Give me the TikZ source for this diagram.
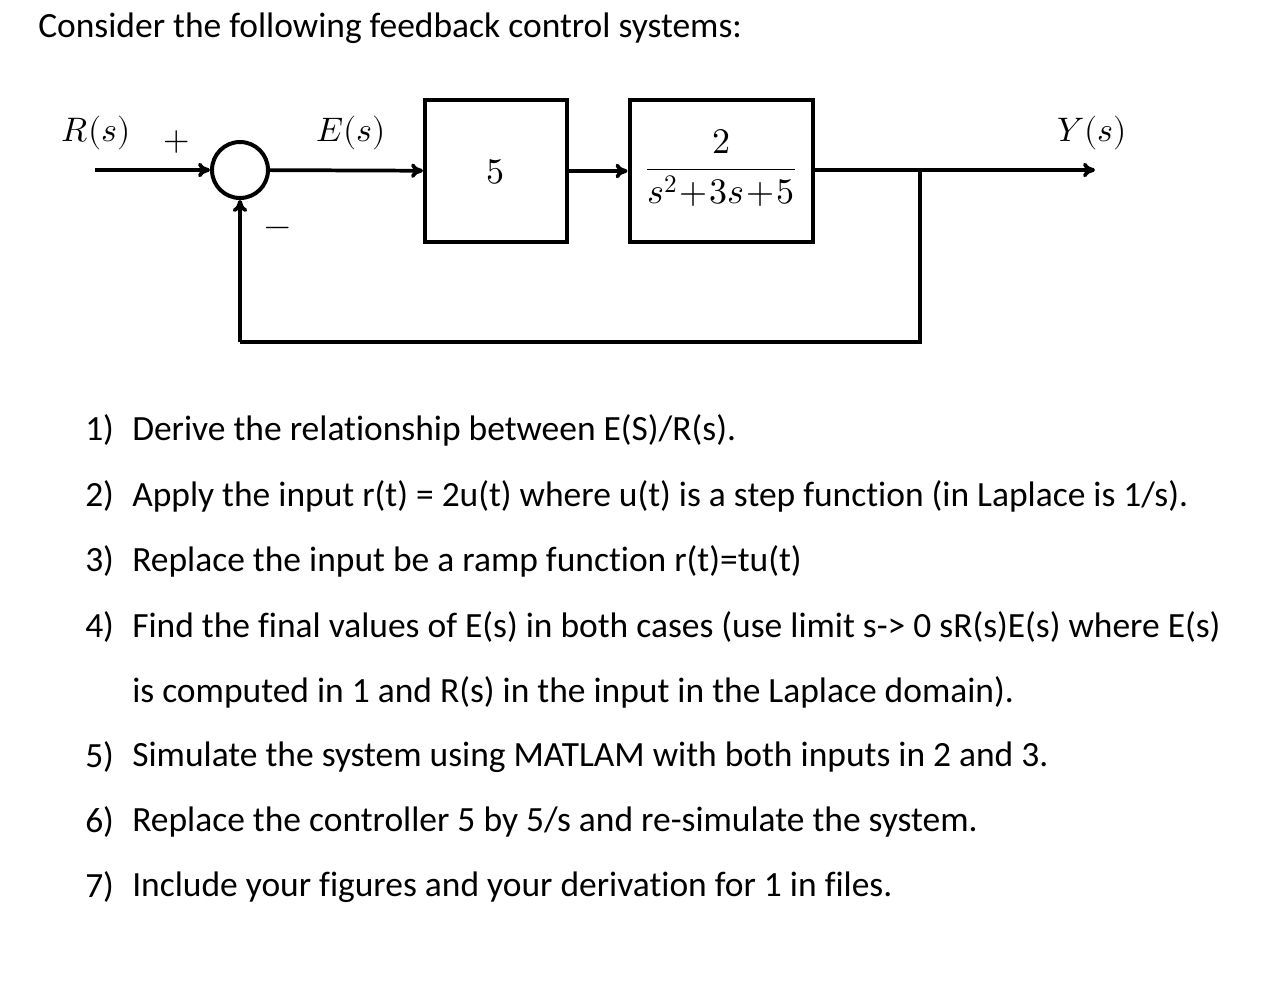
\documentclass[tikz,border=0pt]{standalone}
\usepackage{fontspec}
\setmainfont{Carlito}[Ligatures=NoCommon]
\usepackage{unicode-math}
\setmathfont{Latin Modern Math}
\usetikzlibrary{arrows.meta}
\begin{document}
\begin{tikzpicture}[x=0.75pt,y=-0.75pt,
  blk/.style={draw,line width=3pt,inner sep=0pt},
  ln/.style={line width=2.8pt},
  arr/.style={ln,-{To[length=9pt,width=11pt]}},
  lbl/.style={font=\fontsize{25.5}{30}\selectfont},
  txt/.style={anchor=west,font=\fontsize{26.6}{30}\selectfont,inner sep=0pt}]
\useasboundingbox (0,0) rectangle (1284,1001);
\node[txt] (title) at (38,28) {Consider the following feedback control systems:};
\node[draw,circle,line width=3pt,minimum size=56*0.75pt,inner sep=0pt] (sum) at (240,170) {};
\coordinate (in) at (95,170);
\node[blk,minimum width=142*0.75pt,minimum height=142*0.75pt] (c) at (496,171) {};
\node[font=\fontsize{27}{30}\selectfont] at (495,172) {$5$};
\node[blk,minimum width=183*0.75pt,minimum height=142*0.75pt] (g) at (721,171) {};
\node[font=\fontsize{27}{30}\selectfont] at (721,168) {$\dfrac{2}{s^2\!+\!3s\!+\!5}$};
\coordinate (out) at (1095,170);
\coordinate (br) at (920,170);
\coordinate (f1) at (920,342);
\coordinate (f2) at (240,342);
\draw[arr] (in) -- (sum);
\draw[arr] (sum) -- (c);
\draw[arr] (c) -- (g);
\draw[arr] (g.east |- out) -- (out);
\draw[ln] (br) -- (f1) -- (f2);
\draw[arr] (f2) -- (sum);
\node[lbl] at (96,133) {$R(s)$};
\node[lbl] at (177,142) {$+$};
\node[lbl] at (351,133) {$E(s)$};
\node[lbl] at (1092,133) {$Y(s)$};
\node[lbl] at (278,232) {$-$};
\foreach \n/\y/\t in {1/430/{Derive the relationship between E(S)/R(s).},
 2/496/{Apply the input r(t) = 2u(t) where u(t) is a step function (in Laplace is 1/s).},
 3/561/{Replace the input be a ramp function r(t)=tu(t)},
 4/627/{Find the final values of E(s) in both cases (use limit s-> 0 sR(s)E(s) where E(s)},
 5/757/{Simulate the system using MATLAM with both inputs in 2 and 3.},
 6/822/{Replace the controller 5 by 5/s and re-simulate the system.},
 7/887/{Include your figures and your derivation for 1 in files.}}{
 \node[txt] (n\n) at (85,\y) {\n)};
 \node[txt] (t\n) at (132,\y) {\t};
}
\node[txt] (t4b) at (132,692) {is computed in 1 and R(s) in the input in the Laplace domain).};
\end{tikzpicture}
\end{document}
